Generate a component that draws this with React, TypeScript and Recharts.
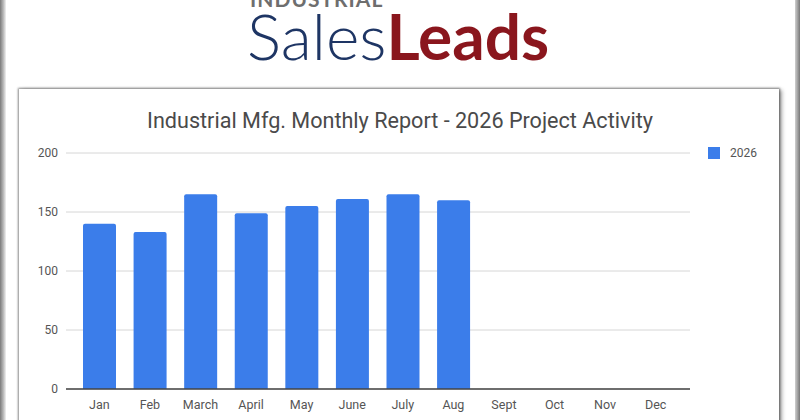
import React from 'react';
import { BarChart, Bar, XAxis, YAxis, CartesianGrid } from 'recharts';

const months = ['Jan', 'Feb', 'March', 'April', 'May', 'June', 'July', 'Aug', 'Sept', 'Oct', 'Nov', 'Dec'];
const projects2026: (number | null)[] = [140, 133, 165, 149, 155, 161, 165, 160, null, null, null, null];
const yTicks = [0, 50, 100, 150, 200];
const seriesName = '2026';

const chartData = months.map((month, i) => ({ month, value: projects2026[i] }));

const BLUE = '#3b7dea';

const App: React.FC = () => {
  return (
    <div
      style={{
        position: 'absolute',
        left: 0,
        top: 0,
        width: 800,
        height: 420,
        overflow: 'hidden',
        background: '#fff',
        fontFamily: 'Roboto, sans-serif',
      }}
    >
      {/* photo frame edges */}
      <div style={{ position: 'absolute', left: 0, top: 0, width: 6, height: 420, background: 'linear-gradient(to right, #7a7a7a, #bdbdbd 60%, #f2f2f2)' }} />
      <div style={{ position: 'absolute', left: 795, top: 0, width: 5, height: 420, background: 'linear-gradient(to right, #d0d0d0, #777)' }} />

      {/* card */}
      <div
        style={{
          position: 'absolute',
          left: 19,
          top: 89,
          width: 760,
          height: 360,
          background: '#fff',
          boxShadow: '0 0 2px 1px rgba(0,0,0,0.45), 3px 1px 4px rgba(0,0,0,0.35)',
        }}
      />

      <svg width={800} height={420} style={{ position: 'absolute', left: 0, top: 0 }}>
        <text x={250} y={7} fontFamily="Lato, sans-serif" fontWeight={700} fontSize={21} letterSpacing={1} fill="#6e6e6e">
          INDUSTRIAL
        </text>
        <text x={247} y={60} fontFamily="Lato, sans-serif" fontSize={64}>
          <tspan fill="#1e3564" fontWeight={300}>Sales</tspan>
          <tspan fill="#8a161d" fontWeight={700}>Leads</tspan>
        </text>
        <text x={400} y={128} textAnchor="middle" fontFamily="Roboto, sans-serif" fontSize={21.6} fill="#4a4a4a">
          Industrial Mfg. Monthly Report - 2026 Project Activity
        </text>
      </svg>

      {/* legend */}
      <div style={{ position: 'absolute', left: 708, top: 147, display: 'flex', alignItems: 'center' }}>
        <span style={{ display: 'inline-block', width: 12, height: 12, background: BLUE, marginRight: 10 }} />
        <span style={{ fontSize: 12, color: '#555', lineHeight: '12px' }}>{seriesName}</span>
      </div>

      <div style={{ position: 'absolute', left: 0, top: 0 }}>
        <BarChart width={800} height={420} data={chartData} margin={{ top: 153, right: 110, bottom: 1, left: 16 }}>
          <CartesianGrid vertical={false} stroke="#d6d6d6" />
          <XAxis
            dataKey="month"
            height={30}
            padding={{ left: 8, right: 9 }}
            tickLine={false}
            tickMargin={5}
            axisLine={{ stroke: '#444', strokeWidth: 1.5 }}
            tick={{ fontSize: 12.5, fill: '#555' }}
            interval={0}
          />
          <YAxis
            width={50}
            domain={[0, 200]}
            ticks={yTicks}
            axisLine={false}
            tickLine={false}
            tick={{ fontSize: 12, fill: '#555' }}
          />
          <Bar dataKey="value" name={seriesName} fill={BLUE} barSize={33} radius={[2, 2, 0, 0]} isAnimationActive={false} />
        </BarChart>
      </div>
    </div>
  );
};

export default App;
